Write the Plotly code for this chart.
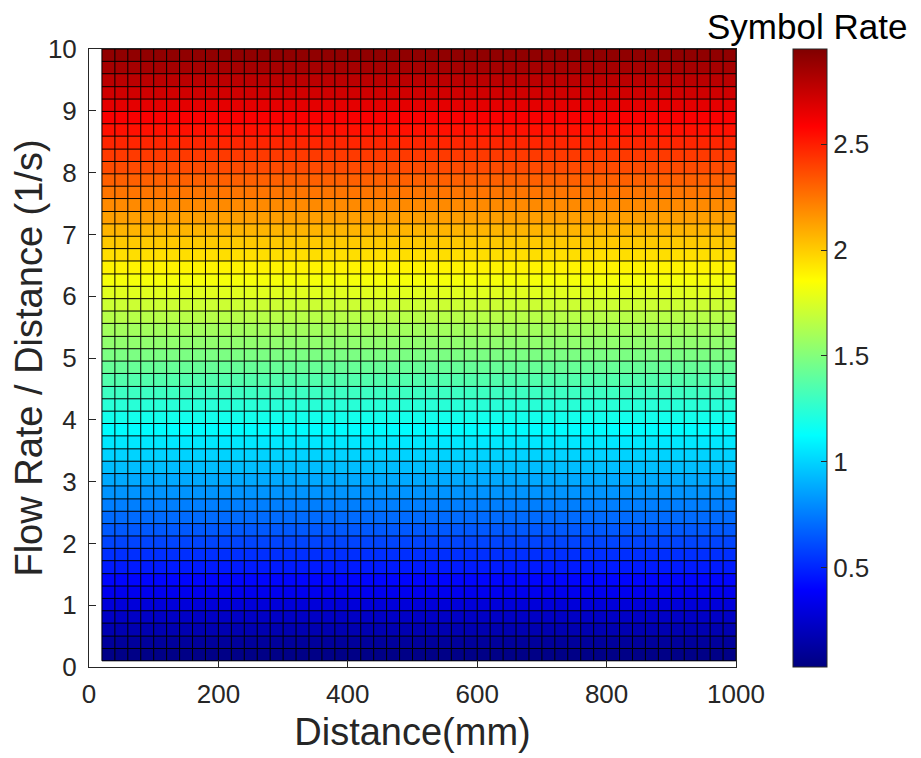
import plotly.graph_objects as go

# grid vertices (MATLAB-style pcolor/surf view(2))
DISTANCE_MM = [20, 40, 60, 80, 100, 120, 140, 160, 180, 200,
               220, 240, 260, 280, 300, 320, 340, 360, 380, 400,
               420, 440, 460, 480, 500, 520, 540, 560, 580, 600,
               620, 640, 660, 680, 700, 720, 740, 760, 780, 800,
               820, 840, 860, 880, 900, 920, 940, 960, 980, 1000]

FLOW_PER_DIST = [0.10, 0.30, 0.50, 0.71, 0.91, 1.11, 1.31, 1.51, 1.72, 1.92,
                 2.12, 2.32, 2.52, 2.72, 2.93, 3.13, 3.33, 3.53, 3.74, 3.94,
                 4.14, 4.34, 4.54, 4.75, 4.95, 5.15, 5.35, 5.56, 5.76, 5.96,
                 6.16, 6.36, 6.57, 6.77, 6.97, 7.17, 7.37, 7.58, 7.78, 7.98,
                 8.18, 8.38, 8.59, 8.79, 8.99, 9.19, 9.39, 9.60, 9.80, 10.00]

# symbol rate at each row's lower vertex (flat shading colours a cell by it)
SYMBOL_RATE = [0.05, 0.11, 0.17, 0.23, 0.29, 0.35, 0.41, 0.47, 0.53, 0.59,
               0.65, 0.70, 0.76, 0.82, 0.88, 0.94, 1.00, 1.06, 1.12, 1.18,
               1.24, 1.30, 1.36, 1.42, 1.48, 1.54, 1.59, 1.65, 1.71, 1.77,
               1.83, 1.89, 1.95, 2.01, 2.07, 2.13, 2.19, 2.25, 2.31, 2.37,
               2.42, 2.48, 2.54, 2.60, 2.66, 2.72, 2.78, 2.84, 2.90]
RATE_MIN, RATE_MAX = 0.03, 2.95

CB_TICKS = [0.5, 1, 1.5, 2, 2.5]
CB_TICKTEXT = ["0.5", "1", "1.5", "2", "2.5"]

MATLAB_JET = [
    [0.0, "rgb(0,0,128)"],
    [0.125, "rgb(0,0,255)"],
    [0.375, "rgb(0,255,255)"],
    [0.625, "rgb(255,255,0)"],
    [0.875, "rgb(255,0,0)"],
    [1.0, "rgb(128,0,0)"],
]

FONT = "Liberation Sans, Arial, Helvetica, sans-serif"
INK = "#262626"

ncols = len(DISTANCE_MM) - 1
z = [[v] * ncols for v in SYMBOL_RATE]

fig = go.Figure()

fig.add_trace(go.Heatmap(
    x=DISTANCE_MM, y=FLOW_PER_DIST, z=z,
    colorscale=MATLAB_JET, zmin=RATE_MIN, zmax=RATE_MAX,
    colorbar=dict(
        thickness=34, thicknessmode="pixels",
        len=1, lenmode="fraction", y=0.5, yanchor="middle",
        x=1.088, xanchor="left", xpad=0, ypad=0,
        outlinecolor=INK, outlinewidth=1,
        tickvals=CB_TICKS, ticktext=CB_TICKTEXT,
        ticks="inside", ticklen=6, tickcolor=INK,
        tickfont=dict(family=FONT, size=26, color=INK),
    ),
    hovertemplate="Distance %{x}<br>Flow/Dist %{y}<br>Rate %{z:.2f}<extra></extra>",
))

# faceted edges
gx, gy = [], []
for xe in DISTANCE_MM:
    gx += [xe, xe, None]
    gy += [FLOW_PER_DIST[0], FLOW_PER_DIST[-1], None]
for ye in FLOW_PER_DIST:
    gx += [DISTANCE_MM[0], DISTANCE_MM[-1], None]
    gy += [ye, ye, None]
fig.add_trace(go.Scatter(
    x=gx, y=gy, mode="lines",
    line=dict(color="black", width=1),
    hoverinfo="skip", showlegend=False,
))

axis_common = dict(
    showline=True, linecolor=INK, linewidth=1, mirror=True,
    ticks="inside", ticklen=7, tickcolor=INK,
    showgrid=False, zeroline=False, automargin=False,
    tickfont=dict(family=FONT, size=26, color=INK),
)

# page body adds a ~7px offset, so the figure is shrunk by that much
fig.update_layout(
    width=914, height=751,
    margin=dict(l=81, r=186, t=41, b=92),
    paper_bgcolor="white", plot_bgcolor="white",
    showlegend=False,
    xaxis=dict(range=[0, 1000], tickvals=[0, 200, 400, 600, 800, 1000],
               ticklabelstandoff=4,
               title=dict(text="Distance(mm)", standoff=10,
                          font=dict(family=FONT, size=38, color=INK)),
               **axis_common),
    yaxis=dict(range=[0, 10], tickvals=list(range(0, 11)),
               ticklabelstandoff=6,
               title=dict(text="Flow Rate / Distance (1/s)", standoff=6,
                          font=dict(family=FONT, size=38, color=INK)),
               **axis_common),
    annotations=[dict(
        text="Symbol Rate", xref="paper", yref="paper",
        x=1.1097, y=1.0372, xanchor="center", yanchor="middle",
        showarrow=False, font=dict(family=FONT, size=35, color="black"),
    )],
)

fig.write_html("out.html")
